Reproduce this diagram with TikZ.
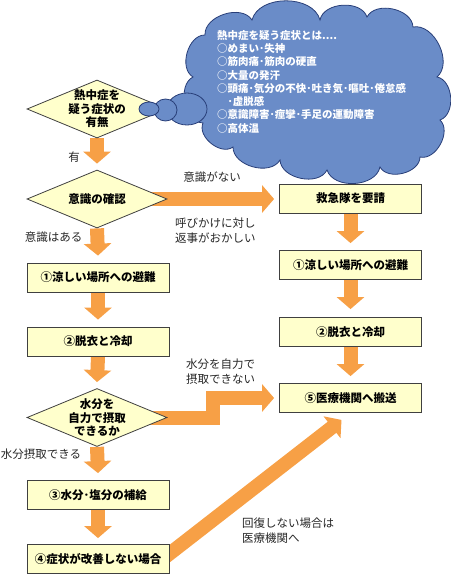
\documentclass[tikz,border=0pt]{standalone}
\usepackage{fontspec}
\setmainfont{Noto Sans CJK JP}
\usetikzlibrary{shapes.geometric,arrows.meta,calc,backgrounds}
\definecolor{arroworange}{RGB}{247,160,70}
\definecolor{boxyellow}{RGB}{255,255,204}
\definecolor{cloudblue}{RGB}{106,140,200}
\definecolor{clouddark}{RGB}{40,62,120}
\begin{document}
\begin{tikzpicture}[x=1pt, y=-1pt,
    stepbox/.style={draw=black!75, line width=0.8pt, fill=boxyellow, minimum width=142pt, minimum height=29pt, inner sep=0pt, font=\fontsize{11.5}{14}\selectfont\bfseries},
    choice/.style={diamond, draw=black!75, line width=0.8pt, fill=boxyellow, aspect=2.4, minimum width=140pt, minimum height=58pt, inner sep=-5pt, align=center, font=\fontsize{11.5}{13.5}\selectfont\bfseries},
    bigarrow/.style={draw=arroworange, line width=14pt, -{Triangle[length=12pt,width=27pt]}},
    note/.style={font=\fontsize{11.5}{15}\selectfont, text=black!85, align=left, inner sep=0pt},
    bubble/.style={draw=clouddark, line width=0.8pt, fill=cloudblue},
    puff/.style={bend left=75}]
    \useasboundingbox (0,0) rectangle (450,583);

    % Draw the cloud
    \draw[bubble] (203,123) to[puff] (193,77) to[puff] (205,35) to[puff] (252,20) to[puff] (320,20)
        to[puff] (367,17) to[puff] (413,27) to[puff] (437,77) to[puff] (440,120) to[puff] (420,157)
        to[puff] (380,167) to[puff] (327,170) to[puff] (280,160) to[puff] (233,147) to[puff] (203,123) -- cycle;
    \node[anchor=north west, align=left, inner sep=0pt, text=white, font=\fontsize{10.5}{13.3}\selectfont\bfseries] (symptoms) at (217,30)
        {熱中症を疑う症状とは....\\○めまい･失神\\○筋肉痛･筋肉の硬直\\○大量の発汗\\○頭痛･気分の不快･吐き気･嘔吐･倦怠感\\　･虚脱感\\○意識障害･痙攣･手足の運動障害\\○高体温};

    % Draw the left column
    \node[choice] (dia1) at (97,109) {熱中症を\\疑う症状の\\有無};
    \node[choice] (dia2) at (97,199) {意識の確認};
    \node[stepbox] (box1) at (98,277.5) {①涼しい場所への避難};
    \node[stepbox] (box2) at (98,341.5) {②脱衣と冷却};
    \node[choice] (dia3) at (97,417.5) {水分を\\自力で摂取\\できるか};
    \node[stepbox] (box3) at (98,495) {③水分･塩分の補給};
    \node[stepbox] (box4) at (98,559) {④症状が改善しない場合};

    % Draw the right column
    \node[stepbox] (box0) at (350.5,198.5) {救急隊を要請};
    \node[stepbox] (rbox1) at (350.5,265) {①涼しい場所への避難};
    \node[stepbox] (rbox2) at (350.5,332) {②脱衣と冷却};
    \node[stepbox] (box5) at (350.5,398) {⑤医療機関へ搬送};

    % Draw the thought bubbles
    \node[ellipse, bubble, minimum width=40pt, minimum height=32pt] (puff3) at (187,109) {};
    \node[ellipse, bubble, minimum width=23pt, minimum height=22pt] (puff2) at (165.5,110) {};
    \node[ellipse, bubble, minimum width=20pt, minimum height=14pt] (puff1) at (149,109) {};

    % Draw the labels
    \node[note] (yes) at (74,157) {有};
    \node[note] (unconscious) at (212,177) {意識がない};
    \node[note, anchor=west] (oddreply) at (175,230.5) {呼びかけに対し\\返事がおかしい};
    \node[note] (conscious) at (53.5,237) {意識はある};
    \node[note, anchor=west] (cannotdrink) at (186,372) {水分を自力で\\摂取できない};
    \node[note] (candrink) at (41,454) {水分摂取できる};
    \node[note, anchor=west] (notrecover) at (242,530.5) {回復しない場合は\\医療機関へ};

    % Draw connections
    \begin{scope}[on background layer]
    \draw[bigarrow] (dia1.south) -- ($(dia2.north)+(0,-6)$);
    \draw[bigarrow] (dia2.south) -- ($(box1.north)+(0,-7)$);
    \draw[bigarrow] (box1.south) -- ($(box2.north)+(0,-7)$);
    \draw[bigarrow] (box2.south) -- ($(dia3.north)+(0,-6)$);
    \draw[bigarrow] (dia3.south) -- ($(box3.north)+(0,-7)$);
    \draw[bigarrow] (box3.south) -- ($(box4.north)+(0,-6)$);
    \draw[bigarrow] (box0.south) -- ($(rbox1.north)+(0,-7)$);
    \draw[bigarrow] (rbox1.south) -- ($(rbox2.north)+(0,-8)$);
    \draw[bigarrow] (rbox2.south) -- ($(box5.north)+(0,-7)$);
    \draw[bigarrow] (dia2.center) -- ($(dia2.center -| box0.west)+(-5,0)$);
    \draw[bigarrow] (dia3.center) -- ++(116,0) |- ($(box5.west)+(-5,0)$);
    \draw[bigarrow] ($(box4.east)+(-8,1)$) -- ($(box5.south)+(-9,7)$);
    \end{scope}

\end{tikzpicture}
\end{document}
